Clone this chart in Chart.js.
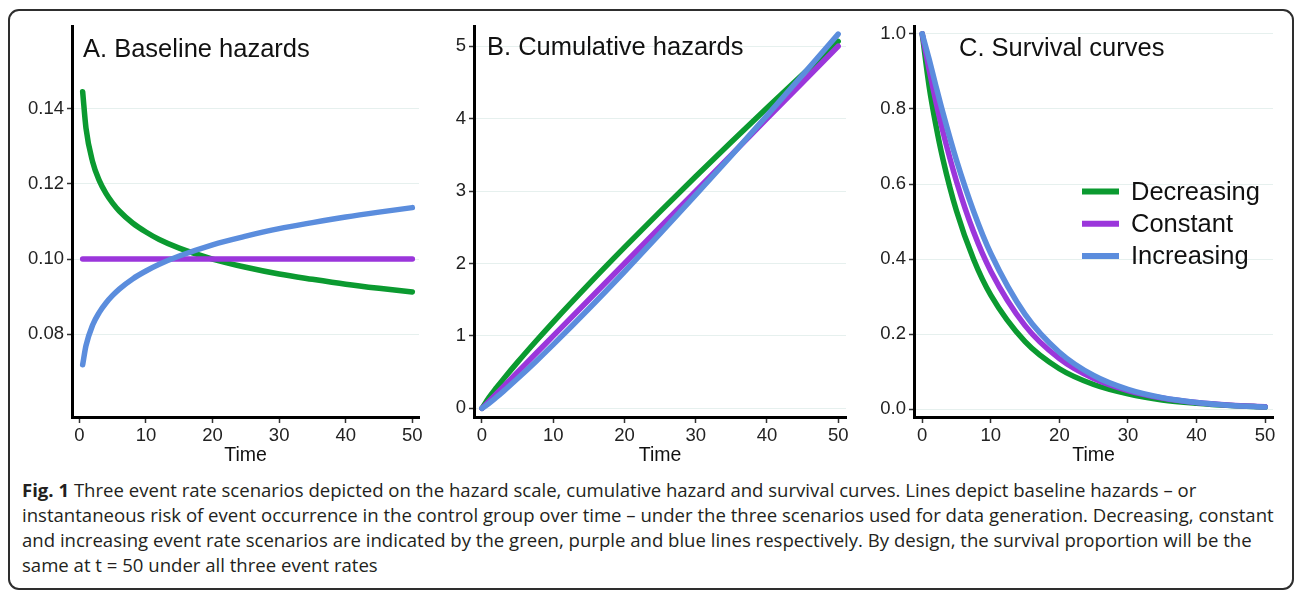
<!DOCTYPE html>
<html>
<head>
<meta charset="utf-8">
<script src="https://cdn.jsdelivr.net/npm/chart.js@4.4.1/dist/chart.umd.min.js"></script>
<style>
  html, body { margin: 0; padding: 0; background: #fff; }
  body { width: 1295px; height: 592px; position: relative; overflow: hidden; }
  #frame { position: absolute; left: 8px; top: 9px; width: 1286px; height: 581px; box-sizing: border-box;
           border: 2px solid #2e2e2e; border-radius: 11px; }
  .panel { position: absolute; top: 10px; height: 460px; }
  #caption { position: absolute; left: 22px; top: 477px; font-family: "Open Sans", "Noto Sans", sans-serif;
             font-size: 17px; line-height: 25px; color: #231f20; white-space: nowrap; }
  #caption b { font-weight: 700; }
</style>
</head>
<body>
<div id="frame"></div>
<div class="panel" style="left:10px; width:420px;"><canvas id="chartA"></canvas></div>
<div class="panel" style="left:430px; width:425px;"><canvas id="chartB"></canvas></div>
<div class="panel" style="left:860px; width:425px;"><canvas id="chartC"></canvas></div>
<div id="caption">
  <span id="capLine1"><b>Fig. 1</b> Three event rate scenarios depicted on the hazard scale, cumulative hazard and survival curves. Lines depict baseline hazards – or</span><br>
  <span id="capLine2">instantaneous risk of event occurrence in the control group over time – under the three scenarios used for data generation. Decreasing, constant</span><br>
  <span>and increasing event rate scenarios are indicated by the green, purple and blue lines respectively. By design, the survival proportion will be the</span><br>
  <span>same at t = 50 under all three event rates</span>
</div>
<script>
// series, in legend order
const seriesNames = ['Decreasing', 'Constant', 'Increasing'];
const seriesColors = ['#0b9a30', '#9b36db', '#5b8ddd'];

// A. baseline hazards
const hazTime = [0.5, 1, 2, 3, 4, 5, 6, 8, 10, 12, 15, 20, 25, 30, 35, 40, 45, 50];
const hazDecreasing = [0.1446, 0.1349, 0.1259, 0.1209, 0.1175, 0.1149, 0.1128, 0.1096, 0.1072, 0.1052, 0.1029, 0.1000, 0.0978, 0.0960, 0.0946, 0.0933, 0.0922, 0.0912];
const hazConstant = [0.1, 0.1, 0.1, 0.1, 0.1, 0.1, 0.1, 0.1, 0.1, 0.1, 0.1, 0.1, 0.1, 0.1, 0.1, 0.1, 0.1, 0.1];
const hazIncreasing = [0.0718, 0.0769, 0.0824, 0.0858, 0.0883, 0.0903, 0.0920, 0.0947, 0.0968, 0.0986, 0.1008, 0.1038, 0.1061, 0.1081, 0.1097, 0.1112, 0.1125, 0.1137];

// B. cumulative hazards and C. survival curves
const cumTime = [0, 1, 2, 3, 5, 7.5, 10, 15, 20, 25, 30, 35, 40, 45, 50];
const cumDecreasing = [0, 0.150, 0.280, 0.403, 0.638, 0.919, 1.191, 1.715, 2.222, 2.716, 3.201, 3.677, 4.146, 4.610, 5.068];
const cumConstant = [0, 0.1, 0.2, 0.3, 0.5, 0.75, 1.0, 1.5, 2.0, 2.5, 3.0, 3.5, 4.0, 4.5, 5.0];
const cumIncreasing = [0, 0.070, 0.150, 0.234, 0.411, 0.641, 0.880, 1.375, 1.886, 2.411, 2.947, 3.491, 4.043, 4.603, 5.168];

const survDecreasing = [1, 0.861, 0.756, 0.668, 0.528, 0.399, 0.304, 0.180, 0.108, 0.066, 0.041, 0.025, 0.016, 0.010, 0.006];
const survConstant = [1, 0.905, 0.819, 0.741, 0.607, 0.472, 0.368, 0.223, 0.135, 0.082, 0.050, 0.030, 0.018, 0.011, 0.007];
const survIncreasing = [1, 0.933, 0.861, 0.791, 0.663, 0.527, 0.415, 0.253, 0.152, 0.090, 0.053, 0.031, 0.018, 0.010, 0.006];

// tick labels
const xTicks = [0, 10, 20, 30, 40, 50];
const hazTicks = [0.08, 0.10, 0.12, 0.14];
const cumTicks = [0, 1, 2, 3, 4, 5];
const survTicks = [0.0, 0.2, 0.4, 0.6, 0.8, 1.0];

const fontFamily = '"Liberation Sans", Arial, sans-serif';
Chart.defaults.font.family = fontFamily;

// fit the caption to the width of its longest line
const cap = document.getElementById('caption');
const capWidth = document.getElementById('capLine2').getBoundingClientRect().width;
cap.style.fontSize = (17 * 1252 / capWidth).toFixed(2) + 'px';

function toPoints(xs, ys) {
  return xs.map((x, i) => ({ x: x, y: ys[i] }));
}

function buildDatasets(xs, lists) {
  return lists.map((ys, i) => ({
    label: seriesNames[i],
    data: toPoints(xs, ys),
    borderColor: seriesColors[i],
    backgroundColor: seriesColors[i],
    borderWidth: 5.5,
    borderCapStyle: 'round',
    borderJoinStyle: 'round',
    pointRadius: 0,
    cubicInterpolationMode: 'monotone',
    order: lists.length - i   // blue ends up on top
  }));
}

// panel heading (and optional legend) drawn inside the plot area
const panelText = {
  id: 'panelText',
  afterDatasetsDraw(chart, args, opts) {
    const ctx = chart.ctx;
    const left = chart.chartArea.left;
    ctx.save();
    ctx.font = '25.5px ' + fontFamily;
    ctx.fillStyle = '#111';
    ctx.textBaseline = 'middle';
    ctx.fillText(opts.text, left + opts.dx, opts.y);
    if (opts.legend) {
      chart.data.datasets.forEach((ds, i) => {
        const y = opts.legend.y + i * opts.legend.gap;
        ctx.strokeStyle = ds.borderColor;
        ctx.lineWidth = 6;
        ctx.beginPath();
        ctx.moveTo(left + opts.legend.x0, y);
        ctx.lineTo(left + opts.legend.x1, y);
        ctx.stroke();
        ctx.fillText(ds.label, left + opts.legend.tx, y + 1);
      });
    }
    ctx.restore();
  }
};

function makeChart(id, cfg) {
  return new Chart(document.getElementById(id), {
    type: 'line',
    data: { datasets: buildDatasets(cfg.xs, cfg.series) },
    options: {
      responsive: true,
      maintainAspectRatio: false,
      animation: false,
      layout: { padding: { top: 16, right: cfg.padRight, left: 0, bottom: 0 } },
      plugins: {
        legend: { display: false },
        tooltip: { enabled: false },
        panelText: cfg.heading
      },
      scales: {
        x: {
          type: 'linear',
          min: cfg.xMin,
          max: cfg.xMax,
          afterBuildTicks: s => { s.ticks = xTicks.map(v => ({ value: v })); },
          afterFit: s => { s.height = 53; },
          grid: { drawOnChartArea: false, tickLength: 6, tickColor: '#333', tickWidth: 1.5 },
          border: { color: '#000', width: 3 },
          ticks: { color: '#222', font: { size: 18.5 }, padding: 2, maxRotation: 0, autoSkip: false },
          title: { display: true, text: 'Time', color: '#111', font: { size: 19.5 }, padding: { top: 0, bottom: 3 } }
        },
        y: {
          type: 'linear',
          min: cfg.yMin,
          max: cfg.yMax,
          afterBuildTicks: s => { s.ticks = cfg.yTicks.map(v => ({ value: v })); },
          afterFit: s => { s.width = cfg.yWidth; },
          grid: { color: '#e6f0ee', lineWidth: 1, tickLength: 5, tickColor: '#333', tickWidth: 1.5 },
          border: { color: '#000', width: 3 },
          ticks: { callback: cfg.fmt, color: '#222', font: { size: 18.5 }, padding: 3, autoSkip: false }
        }
      }
    },
    plugins: [panelText]
  });
}

makeChart('chartA', {
  xs: hazTime,
  series: [hazDecreasing, hazConstant, hazIncreasing],
  xMin: -1.1, xMax: 51.0,
  yMin: 0.0579, yMax: 0.1621,
  yTicks: hazTicks,
  fmt: v => v.toFixed(2),
  yWidth: 62, padRight: 11,
  heading: { text: 'A. Baseline hazards', dx: 11, y: 39.5 }
});

makeChart('chartB', {
  xs: cumTime,
  series: [cumDecreasing, cumConstant, cumIncreasing],
  xMin: -1.12, xMax: 51.1,
  yMin: -0.12, yMax: 5.28,
  yTicks: cumTicks,
  fmt: v => String(v),
  yWidth: 44, padRight: 9,
  heading: { text: 'B. Cumulative hazards', dx: 13, y: 38 }
});

makeChart('chartC', {
  xs: cumTime,
  series: [survDecreasing, survConstant, survIncreasing],
  xMin: -1.2, xMax: 51.15,
  yMin: -0.0205, yMax: 1.021,
  yTicks: survTicks,
  fmt: v => v.toFixed(1),
  yWidth: 54, padRight: 12,
  heading: {
    text: 'C. Survival curves', dx: 45, y: 39,
    legend: { x0: 168, x1: 205, tx: 217, y: 181.5, gap: 32.2 }
  }
});
</script>
</body>
</html>
